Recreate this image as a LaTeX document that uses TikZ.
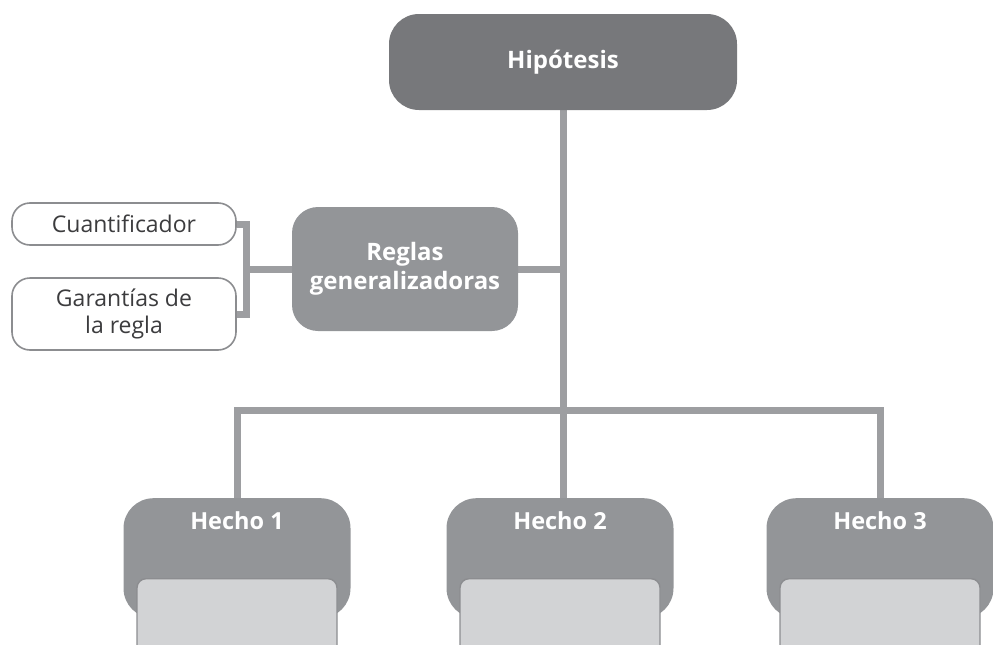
\documentclass[tikz,border=0pt]{standalone}
\usepackage{fontspec}
\setmainfont{Open Sans}
\usepackage{tikz}
\usetikzlibrary{positioning, backgrounds}
\usepackage{xcolor}
\definecolor{hipgray}{HTML}{77787B}
\definecolor{boxgray}{HTML}{939598}
\definecolor{linegray}{HTML}{9D9EA1}
\definecolor{rimgray}{HTML}{8C8D90}
\definecolor{softgray}{HTML}{D2D3D5}
\definecolor{txtgray}{HTML}{3C3C3E}

\begin{document}
\begin{tikzpicture}[x=1pt, y=-1pt,
                  dark/.style={fill=boxgray, rounded corners=26pt, inner sep=0pt,
                              text=white, align=center,
                              font=\fontsize{24}{29.5}\selectfont\bfseries},
                  pill/.style={draw=rimgray, line width=1.6pt, fill=white, rounded corners=18pt,
                              minimum width=224pt, inner sep=0pt, text=txtgray, align=center,
                              font=\fontsize{23}{27.5}\selectfont},
                  hecho/.style={fill=boxgray, rounded corners=30pt, minimum width=227pt,
                              minimum height=120pt, inner sep=0pt},
                  slot/.style={draw=rimgray, line width=1.4pt, fill=softgray, rounded corners=9pt,
                              minimum width=200pt, minimum height=90pt, inner sep=0pt},
                  lbl/.style={text=white, font=\fontsize{23.5}{28}\selectfont\bfseries},
                  conn/.style={draw=linegray, line width=7pt},
            ]
            \clip (0,0) rectangle (993,645);
            \useasboundingbox (0,0) rectangle (993,645);

            % Header
            \node[dark, fill=hipgray, rounded corners=30pt, minimum width=348pt, minimum height=96pt]
                  (hip) at (563,62) {Hipótesis};

            % Rules and their two parts
            \node[dark, minimum width=226pt, minimum height=124pt] (reg) at (405,269)
                  {Reglas\\generalizadoras};
            \node[pill, minimum height=42pt] (cuan) at (124,224) {Cuantificador};
            \node[pill, minimum height=72pt] (gar) at (124,314) {Garantías de\\la regla};

            % Facts along the bottom
            \foreach \i/\x in {1/237, 2/560, 3/880}{
                  \node[hecho, anchor=north] (h\i) at (\x,498) {};
                  \node[lbl] (t\i) at ([yshift=-23pt]h\i.north) {Hecho \i};
                  \node[slot, anchor=north] (s\i) at ([yshift=-80pt]h\i.north) {};
                  }

            % Connectors
            \coordinate (bar) at (h2.north |- 0,410);
            \coordinate (brk) at (reg.west -| 246,0);
            \begin{scope}[on background layer]
                  \draw[conn] (hip.south) -- (hip.south |- h2.north);
                  \draw[conn] (reg.east) -- (reg.east -| hip.south);
                  \draw[conn] (h1.north) |- (hip.south |- bar) -| (h3.north);
                  \draw[conn] (reg.west) -- (brk);
                  \draw[conn] (cuan.east) -| (brk) |- (gar.east);
            \end{scope}
      \end{tikzpicture}
\end{document}
